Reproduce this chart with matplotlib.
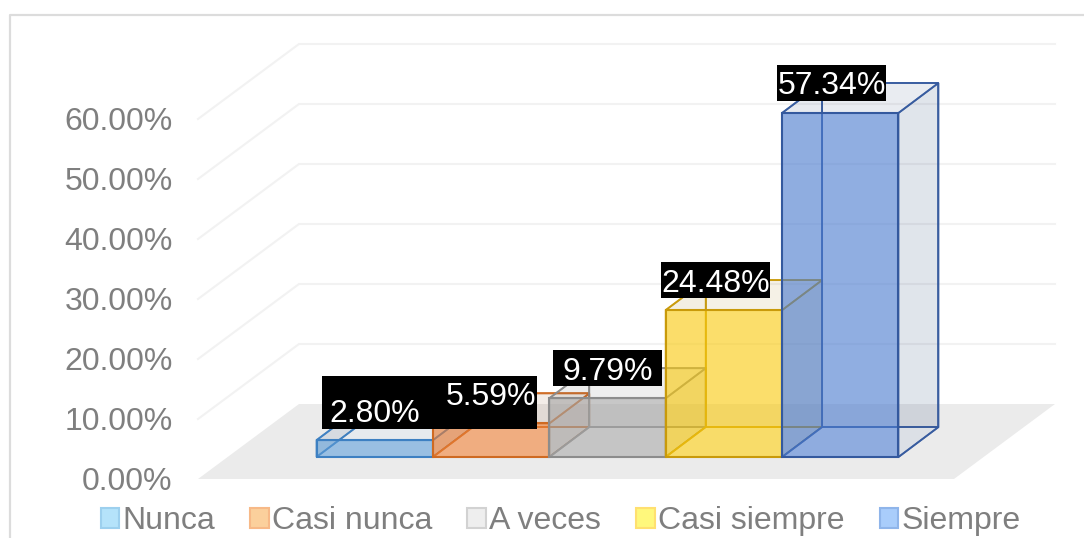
import matplotlib
matplotlib.use("Agg")
import matplotlib.pyplot as plt
from matplotlib.colors import to_rgba
from matplotlib.lines import Line2D
from matplotlib.patches import Patch, Polygon, Rectangle

plt.rcParams['font.family'] = ['Liberation Sans', 'DejaVu Sans']

categories = ["Nunca", "Casi nunca", "A veces", "Casi siempre", "Siempre"]
values = [2.80, 5.59, 9.79, 24.48, 57.34]
labels = ["2.80%", "5.59%", "9.79%", "24.48%", "57.34%"]
y_ticks = [0, 10, 20, 30, 40, 50, 60]
y_tick_labels = ["0.00%", "10.00%", "20.00%", "30.00%", "40.00%", "50.00%", "60.00%"]

fill_colors = ["#5b9bd5", "#ed7d31", "#a5a5a5", "#fbcb0c", "#4a7bd0"]
edge_colors = ["#3d80c2", "#cf6a22", "#8c8c8c", "#c99a0a", "#34599e"]
side_colors = ["#2c5f90", "#8f4a18", "#606060", "#9a7800", "#284678"]
legend_fill = ["#b5e3fa", "#fbd09c", "#eeeeee", "#fff87c", "#a9cdfb"]
legend_edge = ["#9dd0ee", "#f7b987", "#d2d2d2", "#ffe070", "#8fb5ea"]

W, H = 1084, 538
FONT = 23
TEXT_GREY = "#7f7f7f"
PX_PER_UNIT_X = 116.4
PX_PER_UNIT_Y = 6.0
X0_PX = 316.5           # left edge of first bar
AX_L, AX_R, AX_B, AX_T = 198, 956, 479, 119
BASE = (AX_B - 457) / PX_PER_UNIT_Y   # bars stand this far above the axis front corner
DX, DY = 40 / PX_PER_UNIT_X, 30 / PX_PER_UNIT_Y   # bar depth
FDX, FDY = 101 / PX_PER_UNIT_X, 75 / PX_PER_UNIT_Y  # floor depth
label_shift = [0, 0, 0, -8.5, -8.5]


def X(px):
    return (px - X0_PX) / PX_PER_UNIT_X


def Y(py):
    return (AX_B - py) / PX_PER_UNIT_Y


fig = plt.figure(figsize=(W / 100, H / 100), dpi=100, facecolor="white")
ax = fig.add_axes([AX_L / W, 1 - AX_B / H, (AX_R - AX_L) / W, (AX_B - AX_T) / H])
ax.patch.set_visible(False)
ax.set_xlim(X(AX_L), X(AX_R))
ax.set_ylim(0, 60)
for s in ax.spines.values():
    s.set_visible(False)
ax.set_xticks([])
ax.set_yticks(y_ticks)
ax.set_yticklabels(y_tick_labels, fontsize=FONT, color=TEXT_GREY)
ax.tick_params(axis="y", length=0, pad=18.2)

# chart frame
fig.add_artist(Line2D([9.5 / W, 9.5 / W, 1], [0, 1 - 14.5 / H, 1 - 14.5 / H],
                      color="#dcdcdc", lw=1.6))

# floor
x_l, x_r = X(AX_L), X(1055) - FDX
ax.add_patch(Polygon([(x_l, 0), (x_r, 0), (x_r + FDX, FDY), (x_l + FDX, FDY)],
                     closed=True, fc="#ebebeb", ec="none", zorder=1, clip_on=False))
# gridlines on side and back wall
for t in y_ticks[1:]:
    ax.plot([x_l, x_l + FDX, x_r + FDX], [t, t + FDY, t + FDY], color="#f2f2f2",
            lw=1.5, zorder=1.5, clip_on=False, solid_joinstyle="miter")

# bars
z = 2.0
for i, v in enumerate(values):
    b, t = BASE, BASE + v
    l, r = i, i + 1
    fill, edge, side = fill_colors[i], edge_colors[i], side_colors[i]
    # bottom face: pale and nearly opaque, hides the floor under the bar
    ax.add_patch(Polygon([(l, b), (r, b), (r + DX, b + DY), (l + DX, b + DY)], closed=True,
                         fc=to_rgba("#fafafa", 0.75), ec=to_rgba(edge, 0.85), lw=1.3,
                         zorder=z, clip_on=False, joinstyle="miter"))
    z += 0.01
    faces = [
        ([(l + DX, b + DY), (r + DX, b + DY), (r + DX, t + DY), (l + DX, t + DY)], 0.02),  # back
        ([(l, b), (l + DX, b + DY), (l + DX, t + DY), (l, t)], 0.03),                      # left
        ([(l, t), (r, t), (r + DX, t + DY), (l + DX, t + DY)], 0.08),                      # top
        ([(r, b), (r + DX, b + DY), (r + DX, t + DY), (r, t)], 0.12),                      # side
    ]
    for pts, a in faces:
        ax.add_patch(Polygon(pts, closed=True, fc=to_rgba(side, a),
                             ec=to_rgba(edge, 0.85), lw=1.3, zorder=z,
                             clip_on=False, joinstyle="miter"))
        z += 0.01
    ax.bar(l, v, width=1, bottom=b, align="edge", color=to_rgba(fill, 0.6),
           edgecolor=edge, linewidth=1.5, zorder=z, clip_on=False)
    z += 0.01

# data labels
for i, (v, lab) in enumerate(zip(values, labels)):
    cx = i + 0.5 + label_shift[i] / PX_PER_UNIT_X
    cy = BASE + v + DY
    if i == 0:
        box_x, box_w, box_y, box_h = X(322), 108 / PX_PER_UNIT_X, Y(429), 53 / PX_PER_UNIT_Y
    elif i == 1:
        box_x, box_w, box_y, box_h = X(430), 107 / PX_PER_UNIT_X, Y(429), 53 / PX_PER_UNIT_Y
    else:
        box_w, box_h = 109 / PX_PER_UNIT_X, 36 / PX_PER_UNIT_Y
        box_x, box_y = cx - box_w / 2, cy - box_h / 2
    ax.add_patch(Rectangle((box_x, box_y), box_w, box_h, fc="black", ec="none",
                           zorder=10, clip_on=False))
    ax.text(cx, cy, lab, color="white", fontsize=FONT, ha="center",
            va="center_baseline", zorder=11)

# legend
handles = [Patch(facecolor=f, edgecolor=e, linewidth=1.5, label=c)
           for f, e, c in zip(legend_fill, legend_edge, categories)]
leg = fig.legend(handles=handles, ncol=5, loc="center", bbox_to_anchor=(560.5 / W, 1 - 521 / H),
                 frameon=False, fontsize=FONT, handlelength=0.58, handleheight=0.58,
                 handletextpad=0.1, columnspacing=1.10, labelcolor=TEXT_GREY,
                 borderpad=0, borderaxespad=0)

fig.savefig("out.png", dpi=100, facecolor="white")
